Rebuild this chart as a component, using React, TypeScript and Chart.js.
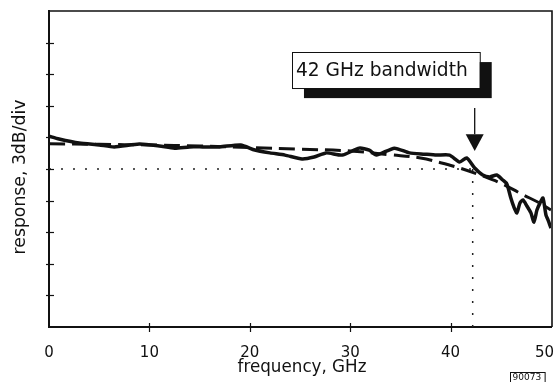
import React, { useEffect, useRef } from "react";
import { Chart, registerables } from "chart.js";

Chart.register(...registerables);

// measured response (solid), in divisions (3 dB/div)
const measuredFreqGHz = [0, 1, 3, 5, 6.5, 9, 11, 12.5, 14, 15.3, 17, 19.1, 20.5, 22, 23.5, 25.2, 26.4, 27.6, 29.2, 30.9, 31.9, 32.6, 34.4, 35.9, 37.4, 38.6, 39.9, 40.9, 41.6, 42.4, 43.2, 43.9, 44.6, 45.2, 45.6, 46.0, 46.3, 46.6, 46.9, 47.2, 47.6, 48.0, 48.3, 48.6, 48.9, 49.2, 49.5, 49.7, 50];
const measuredResp = [6.04, 5.95, 5.82, 5.76, 5.7, 5.79, 5.73, 5.66, 5.7, 5.7, 5.7, 5.76, 5.6, 5.51, 5.44, 5.32, 5.38, 5.51, 5.44, 5.66, 5.6, 5.44, 5.66, 5.51, 5.47, 5.44, 5.44, 5.22, 5.35, 5.03, 4.81, 4.75, 4.81, 4.65, 4.53, 4.08, 3.8, 3.61, 3.92, 4.02, 3.83, 3.61, 3.32, 3.7, 3.92, 4.08, 3.54, 3.39, 3.13];

// fitted response (dashed)
const fitFreqGHz = [0, 5, 10, 15, 20, 25, 30, 34, 37, 39, 41, 43, 45, 47, 49, 50];
const fitResp = [5.8, 5.78, 5.76, 5.73, 5.68, 5.63, 5.57, 5.45, 5.35, 5.2, 5.02, 4.8, 4.55, 4.22, 3.9, 3.7];

// reference levels
const level3dB = 5;
const bandwidthGHz = 42.2;

const xTickValues = [0, 10, 20, 30, 40, 50];
const xTickLabels = ["0", "10", "20", "30", "40", "50"];
const yTickValues = [1, 2, 3, 4, 5, 6, 7, 8, 9];

const xTitle = "frequency, GHz";
const yTitle = "response, 3dB/div";
const annotationText = "42 GHz bandwidth";
const figureId = "90073";

const FONT = "'DejaVu Sans', sans-serif";
const INK = "#111";

function fitSize(ctx: CanvasRenderingContext2D, text: string, targetW: number) {
  ctx.font = `20px ${FONT}`;
  const w = ctx.measureText(text).width;
  return (20 * targetW) / w;
}

const decorPlugin = {
  id: "decor",
  afterDraw(chart: any) {
    const ctx: CanvasRenderingContext2D = chart.ctx;
    const a = chart.chartArea;
    const xs = chart.scales.x;
    const ys = chart.scales.y;
    ctx.save();
    ctx.strokeStyle = INK;
    ctx.fillStyle = INK;

    // frame: top & right
    ctx.lineWidth = 1.6;
    ctx.beginPath();
    ctx.moveTo(a.left, a.top);
    ctx.lineTo(a.right + 1, a.top);
    ctx.lineTo(a.right + 1, a.bottom);
    ctx.stroke();

    // crossing tick marks
    ctx.lineWidth = 1.2;
    for (const v of yTickValues) {
      const py = Math.round(ys.getPixelForValue(v)) + 0.5;
      ctx.beginPath();
      ctx.moveTo(a.left - 3, py);
      ctx.lineTo(a.left + 5, py);
      ctx.stroke();
    }
    for (const f of xTickValues.slice(1, -1)) {
      const px = Math.round(xs.getPixelForValue(f)) + 0.5;
      ctx.beginPath();
      ctx.moveTo(px, a.bottom - 4);
      ctx.lineTo(px, a.bottom + 5);
      ctx.stroke();
    }

    // x tick labels
    ctx.font = `15px ${FONT}`;
    ctx.textAlign = "center";
    ctx.textBaseline = "middle";
    xTickValues.forEach((f, i) => {
      const t = xTickLabels[i];
      let px = xs.getPixelForValue(f);
      const w = ctx.measureText(t).width;
      if (px + w / 2 > chart.width - 2) px = chart.width - 2 - w / 2;
      ctx.fillText(t, px, a.bottom + 26);
    });

    // x title
    const xtSize = fitSize(ctx, xTitle, 129);
    ctx.font = `${xtSize}px ${FONT}`;
    ctx.fillText(xTitle, (a.left + a.right) / 2 + 2, a.bottom + 41);

    // y title
    const ytSize = fitSize(ctx, yTitle, 155);
    ctx.save();
    ctx.translate(21, (a.top + a.bottom) / 2 + 8);
    ctx.rotate(-Math.PI / 2);
    ctx.font = `${ytSize}px ${FONT}`;
    ctx.fillText(yTitle, 0, 0);
    ctx.restore();

    // annotation box with shadow
    const bx0 = xs.getPixelForValue(24.2);
    const bx1 = xs.getPixelForValue(42.9);
    const by0 = ys.getPixelForValue(8.7);
    const by1 = ys.getPixelForValue(7.56);
    ctx.fillStyle = INK;
    ctx.fillRect(bx0 + 12, by0 + 10, bx1 - bx0, by1 - by0);
    ctx.fillStyle = "#fff";
    ctx.fillRect(bx0, by0, bx1 - bx0, by1 - by0);
    ctx.lineWidth = 1;
    ctx.strokeRect(Math.round(bx0) + 0.5, Math.round(by0) + 0.5, bx1 - bx0, by1 - by0);
    ctx.fillStyle = INK;
    const atSize = fitSize(ctx, annotationText, 172);
    ctx.font = `${atSize}px ${FONT}`;
    ctx.textAlign = "left";
    ctx.fillText(annotationText, bx0 + 4, (by0 + by1) / 2 + 1);

    // arrow
    const ax = xs.getPixelForValue(42.4);
    const ay0 = ys.getPixelForValue(6.93);
    const ayHead = ys.getPixelForValue(6.1);
    const ayTip = ys.getPixelForValue(5.57);
    ctx.lineWidth = 1.3;
    ctx.beginPath();
    ctx.moveTo(ax, ay0);
    ctx.lineTo(ax, ayHead);
    ctx.stroke();
    ctx.beginPath();
    ctx.moveTo(ax - 9, ayHead);
    ctx.lineTo(ax + 9, ayHead);
    ctx.lineTo(ax, ayTip);
    ctx.closePath();
    ctx.fill();

    // figure id box
    ctx.font = `9px ${FONT}`;
    ctx.textAlign = "center";
    const idW = ctx.measureText(figureId).width + 6;
    const idCx = xs.getPixelForValue(47.6);
    const idY = a.bottom + 45;
    ctx.lineWidth = 1;
    ctx.strokeRect(Math.round(idCx - idW / 2) + 0.5, idY + 0.5, idW, 10);
    ctx.fillText(figureId, idCx, idY + 6);

    ctx.restore();
  },
};

export default function App() {
  const ref = useRef<HTMLCanvasElement | null>(null);

  useEffect(() => {
    if (!ref.current) return;
    const chart = new Chart(ref.current, {
      type: "line",
      data: {
        datasets: [
          {
            label: "measured",
            data: measuredFreqGHz.map((f, i) => ({ x: f, y: measuredResp[i] })),
            borderColor: INK,
            borderWidth: 3.5,
            pointRadius: 0,
            tension: 0.2,
            fill: false,
          },
          {
            label: "fit",
            data: fitFreqGHz.map((f, i) => ({ x: f, y: fitResp[i] })),
            borderColor: INK,
            borderWidth: 3,
            borderDash: [16, 7],
            pointRadius: 0,
            tension: 0.4,
            fill: false,
          },
          {
            label: "-3 dB",
            data: [
              { x: 0, y: level3dB },
              { x: bandwidthGHz, y: level3dB },
            ],
            borderColor: "#222",
            borderWidth: 1.5,
            borderDash: [2, 10],
            pointRadius: 0,
            fill: false,
          },
          {
            label: "bandwidth",
            data: [
              { x: bandwidthGHz, y: level3dB },
              { x: bandwidthGHz, y: 0 },
            ],
            borderColor: "#222",
            borderWidth: 1.5,
            borderDash: [2, 10],
            pointRadius: 0,
            fill: false,
          },
        ],
      },
      options: {
        animation: false,
        responsive: false,
        layout: { padding: { top: 11, right: 5, left: 0, bottom: 0 } },
        plugins: { legend: { display: false }, tooltip: { enabled: false } },
        scales: {
          x: {
            type: "linear",
            min: 0,
            max: 50,
            ticks: { display: false, stepSize: 10 },
            grid: { display: false },
            border: { display: true, color: INK, width: 2 },
            afterFit: (s: any) => {
              s.height = 55;
              s.paddingLeft = 0;
              s.paddingRight = 0;
            },
          },
          y: {
            type: "linear",
            min: 0,
            max: 10,
            ticks: { display: false, stepSize: 1 },
            grid: { display: false },
            border: { display: true, color: INK, width: 2 },
            afterFit: (s: any) => {
              s.width = 49;
              s.paddingTop = 0;
              s.paddingBottom = 0;
            },
          },
        },
      },
      plugins: [decorPlugin],
    } as any);
    return () => chart.destroy();
  }, []);

  return (
    <div style={{ position: "fixed", left: 0, top: 0, width: 556, height: 382, background: "#fff" }}>
      <canvas ref={ref} width={556} height={382} style={{ display: "block" }} />
    </div>
  );
}
